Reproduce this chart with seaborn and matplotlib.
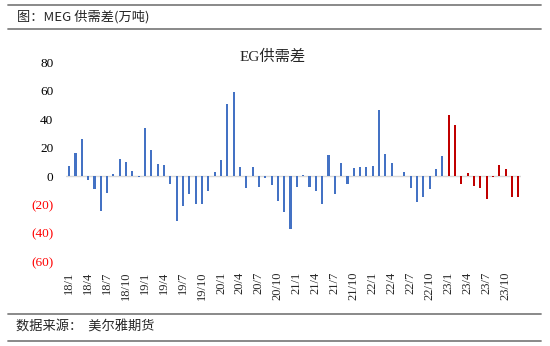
import matplotlib
matplotlib.use("Agg")
import matplotlib.pyplot as plt
from matplotlib.lines import Line2D
import seaborn as sns
import pandas as pd

# ---- data ----
years = ["18", "19", "20", "21", "22", "23"]
months = list(range(1, 13))
values_2018 = [7.5, 16.6, 25.9, -2.3, -9.1, -24.5, -11.9, 1.9, 11.9, 10.0, 4.0, -0.5]
values_2019 = [33.8, 18.7, 8.9, 7.7, -5.4, -31.3, -21.2, -12.6, -19.6, -19.8, -10.3, 3.3]
values_2020 = [11.2, 50.6, 59.5, 6.8, -8.4, 6.5, -7.5, -1.0, -6.3, -17.3, -25.2, -36.9]
values_2021 = [-7.7, 1.0, -7.5, -10.3, -19.4, 14.9, -12.4, 9.3, -5.6, 6.1, 6.5, 6.3]
values_2022 = [7.0, 46.4, 15.4, 9.6, 0.3, 3.3, -8.2, -18.4, -14.5, -8.6, 5.1, 14.2]
values_2023 = [43.2, 36.2, -5.6, 2.6, -7.0, -8.2, -16.1, -0.5, 7.9, 5.4, -14.5, -14.5]
yticks = [80, 60, 40, 20, 0, -20, -40, -60]

labels, vals, groups = [], [], []
for y, series in zip(years, [values_2018, values_2019, values_2020,
                             values_2021, values_2022, values_2023]):
    for m, v in zip(months, series):
        labels.append(f"{y}/{m}")
        vals.append(v)
        groups.append("2023" if y == "23" else "hist")
df = pd.DataFrame({"month": labels, "value": vals, "group": groups})

# ---- plot ----
sns.set_theme(style="white")
plt.rcParams["font.family"] = ["Liberation Serif", "Noto Sans CJK SC", "DejaVu Sans"]

fig = plt.figure(figsize=(5.5, 3.46), dpi=100)
ax = fig.add_axes([0.12, 0.2436, 0.828, 0.5763])

sns.barplot(data=df, x="month", y="value", hue="group", order=labels,
            palette={"hist": "#4472C4", "2023": "#C00000"},
            dodge=False, width=0.33, legend=False, ax=ax,
            linewidth=0, edgecolor="none", saturation=1)

ax.axhline(0, color="#d9d9d9", lw=1, zorder=0)
ax.set_ylim(-60, 80)
ax.set_xlim(-0.5, len(labels) - 0.5)
for s in ax.spines.values():
    s.set_visible(False)
ax.set_xlabel("")
ax.set_ylabel("")

ax.set_yticks(yticks)
ax.set_yticklabels([str(t) if t >= 0 else f"({-t})" for t in yticks])
for t, lab in zip(yticks, ax.get_yticklabels()):
    lab.set_color("#FF0000" if t < 0 else "black")
ax.tick_params(axis="y", length=0, pad=9, labelsize=9.5)

xt = list(range(0, len(labels), 3))
ax.set_xticks(xt)
ax.set_xticklabels([labels[i] for i in xt], rotation=90)
ax.tick_params(axis="x", length=0, pad=7, labelsize=9)

ax.set_title("EG供需差", fontsize=11, pad=1, x=0.454,
             family=["Liberation Serif", "Noto Sans CJK SC"])

# header / footer lines and texts
def hline(ypix):
    y = 1 - ypix / 346
    fig.add_artist(Line2D([8 / 550, 541 / 550], [y, y], color="#808080", lw=1.3,
                          transform=fig.transFigure))

hline(5)
hline(29)
hline(314)
hline(341)
fig.text(17 / 550, 1 - 17 / 346, "图：MEG 供需差(万吨)", fontsize=9.5, va="center",
         ha="left", family=["Noto Sans CJK SC", "DejaVu Sans"])
fig.text(16 / 550, 1 - 327 / 346, "数据来源：  美尔雅期货", fontsize=9.5, va="center",
         ha="left", family=["Noto Sans CJK SC", "DejaVu Sans"])

fig.savefig("out.png", dpi=100)
